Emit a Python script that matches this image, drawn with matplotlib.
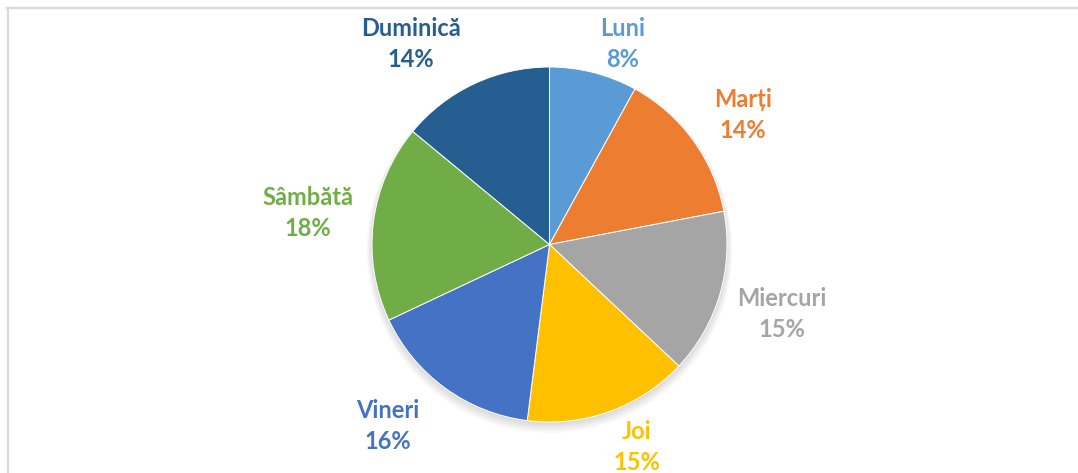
import matplotlib
matplotlib.use("Agg")
import matplotlib.pyplot as plt
from matplotlib.lines import Line2D
from matplotlib.patches import Circle

# data
days = ["Luni", "Marți", "Miercuri", "Joi", "Vineri", "Sâmbătă", "Duminică"]
shares = [8, 14, 15, 15, 16, 18, 14]
colors = ["#5B9BD5", "#ED7D31", "#A5A5A5", "#FFC000", "#4472C4", "#70AD47", "#255E91"]

# label centres, in units of the pie radius (layout only)
label_pos = [(0.41, 1.13), (1.09, 0.73), (1.31, -0.39), (0.49, -1.14),
             (-0.91, -1.02), (-1.36, 0.18), (-0.78, 1.13)]

W, H = 1078, 473
cx, cy, R = 549.5, 244.5, 177.5

fig = plt.figure(figsize=(W / 100, H / 100), dpi=100)
ax = fig.add_axes([0, 0, 1, 1])

# soft shadow under the pie
for k in range(6):
    ax.add_patch(Circle((0, -0.012 - 0.004 * k), 1.0 + 0.006 * k,
                        color="black", alpha=0.025, lw=0, zorder=0))

wedges, _ = ax.pie(shares, colors=colors, startangle=90, counterclock=False,
                   radius=1.0, wedgeprops=dict(edgecolor="white", linewidth=0.7))
for w in wedges:
    w.set_zorder(2)

for name, val, col, (lx, ly) in zip(days, shares, colors, label_pos):
    ax.text(lx, ly, f"{name}\n{val}%", ha="center", va="center", color=col,
            fontsize=17, fontweight="bold", linespacing=1.42,
            family=["Lato", "DejaVu Sans"], zorder=3)

ax.set_aspect("auto")
ax.set_xlim(-cx / R, (W - cx) / R)
ax.set_ylim(-(H - cy) / R, cy / R)
ax.axis("off")

# frame of the surrounding box
fig.add_artist(Line2D([7 / W, 1], [1 - 8.5 / H, 1 - 8.5 / H], transform=fig.transFigure,
                      color="#D9D9D9", lw=1.6))
fig.add_artist(Line2D([7.5 / W, 7.5 / W], [0, 1 - 8.5 / H], transform=fig.transFigure,
                      color="#D9D9D9", lw=1.6))

fig.savefig("out.png", dpi=100, facecolor="white")
